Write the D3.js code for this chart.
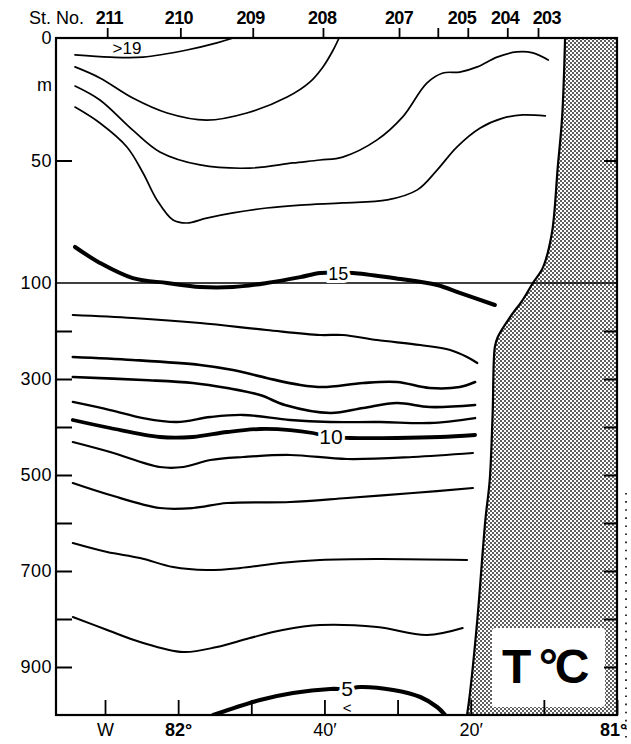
<!DOCTYPE html>
<html><head><meta charset="utf-8">
<script src="https://cdn.jsdelivr.net/npm/d3@7"></script>
<style>
body{margin:0;background:#fff}
text{font-family:"Liberation Sans",Arial,Helvetica,sans-serif;fill:#000}
</style>
</head><body>
<svg id="c" width="631" height="744"></svg>
<script>
// ---- data (longitude in minutes west of 81°W, depth in m) ----
const stations = ["211","210","209","208","207","","205","204","203"];
const stationLon = [69.7,59.7,49.8,40.2,29.8,24.5,20.4,15.0,10.8];
const stationLabelShift = [-0.3,0.2,0.3,0.1,0,0,0.8,0.3,-1.2]; // label offset in minutes
const lonTicks = [70,60,50,40,30,20,10,0];
const lonTickLabels = ["W","82°","","40′","","20′","","81°"];
const depthLabelValues = [0,50,100,300,500,700,900];
const depthTickValues = [50,200,300,400,500,600,700,800,900];

const iso19 = [[74.1,6.9],[69.3,7.8],[64.8,7.8],[58.8,4.9],[54.7,2.0],[52.5,0]];
const iso18 = [[74.1,11.8],[70.7,16.3],[66.2,24.5],[61.5,30.6],[56.1,33.5],[50.6,30.6],[45.1,24.1],[42.0,18.0],[40.2,11.8],[38.8,4.9],[38.0,0]];
const iso17 = [[74.1,19.6],[70.7,25.3],[66.2,37.6],[62.5,46.5],[57.0,51.8],[50.2,53.1],[44.3,51.0],[40.6,49.8],[37.5,48.6],[32.8,41.6],[29.3,32.2],[26.0,18.4],[23.8,14.3],[21.5,13.9],[19.1,11.8],[16.4,7.8],[13.7,5.7],[11.5,6.1],[9.4,9.0]];
const iso16 = [[74.1,28.2],[70.7,34.7],[67.0,44.5],[64.8,55.1],[62.9,66.1],[60.7,74.3],[58.8,75.5],[56.1,73.5],[52.5,71.4],[47.9,69.4],[43.3,68.2],[37.5,67.3],[31.4,66.1],[27.3,62.0],[24.6,53.9],[21.9,44.5],[18.7,36.7],[15.6,32.7],[12.9,31.4],[9.8,31.8]];
const iso15 = [[74.1,85.3],[70.7,91.8],[66.2,98.0],[61.5,100],[57.0,108.3],[52.5,108.3],[47.9,100],[43.3,97.6],[40.6,95.9],[38.1,95.9],[36.1,95.9],[30.6,98.0],[24.6,104.2],[21.5,120.8],[16.7,145.8]];
const iso14 = [[74.4,166.7],[66.2,172.9],[57.0,183.3],[47.9,197.9],[40.6,208.3],[37.5,208.3],[32.8,218.8],[26.9,229.2],[22.8,239.6],[20.5,254.2],[19.1,266.7]];
const iso13 = [[74.4,254.2],[66.2,260.4],[57.0,270.8],[52.5,281.3],[47.9,297.9],[43.3,312.5],[40.2,316.7],[34.7,308.3],[30.1,306.3],[25.6,318.8],[21.5,316.7],[19.4,306.3]];
const iso12 = [[74.4,295.8],[64.8,302.1],[58.0,308.3],[53.3,318.8],[48.8,333.3],[45.4,354.2],[39.2,370.8],[34.7,360.4],[30.1,350],[25.6,358.3],[19.4,354.2]];
const iso11 = [[74.4,347.9],[69.3,364.6],[64.8,381.3],[60.2,389.6],[55.6,379.2],[51.1,375],[44.7,385.4],[39.2,389.6],[32.4,389.6],[25.6,391.7],[19.4,381.3]];
const iso10 = [[74.4,385.4],[69.3,402.1],[62.5,420.8],[58.0,420.8],[53.3,410.4],[48.8,404.2],[44.7,406.3],[41.6,412.5],[39.2,420.8],[36.5,422.9],[30.1,422.9],[24.2,420.8],[19.4,416.7]];
const iso9 = [[74.4,431.3],[69.3,452.1],[62.5,483.3],[59.3,483.3],[55.6,468.8],[51.1,462.5],[44.7,458.3],[36.9,466.7],[27.9,462.5],[19.7,454.2]];
const iso8 = [[74.4,516.7],[69.3,541.7],[62.5,568.8],[58.0,568.8],[53.3,558.3],[44.7,556.3],[36.9,547.9],[27.9,537.5],[19.7,527.1]];
const iso7 = [[74.4,641.7],[69.7,660.4],[65.2,672.9],[60.7,691.7],[56.1,697.9],[51.5,693.8],[46.1,683.3],[40.6,677.1],[32.8,675],[20.5,677.1]];
const iso6 = [[74.4,795.8],[69.7,822.9],[65.2,847.9],[59.3,868.8],[54.7,858.3],[50.2,839.6],[45.7,822.9],[40.6,812.5],[32.8,816.7],[26.0,833.3],[21.1,818.8]];
const iso5 = [[55.2,1000],[48.8,968.8],[44.3,954.2],[39.2,945.8],[36.9,945.8],[35.1,941.7],[30.6,947.9],[26.9,962.5],[24.6,983.3],[23.5,1000]];

const bottomProfile = [[7.1,0],[7.5,32.2],[8.1,52.7],[8.9,79.6],[10.1,93.5],[11.5,100],[12.9,135.4],[14.6,170.8],[16.3,212.5],[16.7,233.3],[17.0,370.8],[17.4,510.4],[18.0,593.8],[19.1,802.1],[20.1,954.2],[20.5,1000]];

const contours = [
  {pts:iso19,w:1.7},{pts:iso18,w:1.7},{pts:iso17,w:1.7},{pts:iso16,w:1.7},
  {pts:iso15,w:4},{pts:iso14,w:2.2},{pts:iso13,w:2.6},{pts:iso12,w:2.6},
  {pts:iso11,w:2.3},{pts:iso10,w:3.8},{pts:iso9,w:2.2},{pts:iso8,w:2.2},
  {pts:iso7,w:2},{pts:iso6,w:2},{pts:iso5,w:4.2}
];
const contourLabels = [
  {t:">19",lon:67.0,d:4.3,s:17},
  {t:"15",lon:38.1,d:96.3,s:18},
  {t:"10",lon:39.1,d:420.8,s:21},
  {t:"5",lon:36.9,d:945.8,s:21},
  {t:"<",lon:36.9,d:985,s:15}
];

// ---- scales ----
const x = d3.scaleLinear().domain([76.7,0]).range([56,617]);
const y = d3.scaleLinear().domain([0,100,1000]).range([38,283,715]);

const svg = d3.select("#c");
const defs = svg.append("defs");
const pat = defs.append("pattern").attr("id","dots").attr("patternUnits","userSpaceOnUse")
  .attr("width",4).attr("height",4);
pat.append("rect").attr("width",4).attr("height",4).attr("fill","#fff");
pat.append("circle").attr("cx",1).attr("cy",1).attr("r",0.9).attr("fill","#111");
pat.append("circle").attr("cx",3).attr("cy",3).attr("r",0.9).attr("fill","#111");
defs.append("clipPath").attr("id","plot").append("rect")
  .attr("x",x(76.7)).attr("y",y(0)).attr("width",x(0)-x(76.7)).attr("height",y(1000)-y(0));

// land
const landPoly = bottomProfile.concat([[0,1000],[0,0]]);
svg.append("path")
  .attr("d", d3.line().x(d=>x(d[0])).y(d=>y(d[1])).curve(d3.curveLinear)(landPoly))
  .attr("fill","url(#dots)").attr("stroke","none");
svg.append("path")
  .attr("d", d3.line().x(d=>x(d[0])).y(d=>y(d[1])).curve(d3.curveCatmullRom.alpha(0.5))(bottomProfile))
  .attr("fill","none").attr("stroke","#000").attr("stroke-width",2.2);

// 100 m break line
svg.append("line").attr("x1",x(76.7)).attr("x2",x(0)).attr("y1",y(100)).attr("y2",y(100))
  .attr("stroke","#000").attr("stroke-width",1.6);

// contours
const g = svg.append("g").attr("clip-path","url(#plot)");
const line = d3.line().x(d=>x(d[0])).y(d=>y(d[1])).curve(d3.curveCatmullRom.alpha(0.5));
g.selectAll("path.iso").data(contours).join("path").attr("class","iso")
  .attr("d",d=>line(d.pts)).attr("fill","none").attr("stroke","#000")
  .attr("stroke-width",d=>d.w).attr("stroke-linecap","round").attr("stroke-linejoin","round");

// contour labels
svg.selectAll("text.cl").data(contourLabels).join("text").attr("class","cl")
  .attr("x",d=>x(d.lon)).attr("y",d=>y(d.d)).attr("text-anchor","middle")
  .attr("dominant-baseline","central").attr("font-size",d=>d.s)
  .attr("stroke","#fff").attr("stroke-width",d=>d.t===">19"?0:6).attr("paint-order","stroke")
  .text(d=>d.t);

// T °C box
svg.append("rect").attr("x",492).attr("y",628).attr("width",113).attr("height",79).attr("fill","#fff").attr("rx",3);
svg.append("text").attr("x",502).attr("y",683)
  .attr("font-weight","bold").attr("font-size",48).attr("letter-spacing",-3).text("T °C");

// axes
const axes = svg.append("g");
// left ticks (inward)
axes.append("g").attr("transform",`translate(${x(76.7)},0)`)
  .call(d3.axisLeft(y).tickValues(depthTickValues).tickSizeInner(-16).tickSizeOuter(0).tickFormat(""))
  .call(s=>{s.select(".domain").remove(); s.selectAll("line").attr("stroke","#000").attr("stroke-width",2);});
// left labels
axes.append("g").attr("transform",`translate(${x(76.7)},0)`)
  .call(d3.axisLeft(y).tickValues(depthLabelValues).tickSize(0).tickPadding(4).tickFormat(d3.format("d")))
  .call(s=>{s.select(".domain").remove(); s.selectAll("text").attr("font-size",18).attr("font-family","Liberation Sans, Arial").attr("fill","#000").attr("letter-spacing",0.5);});
axes.append("text").attr("x",52).attr("y",y(19.2)).attr("text-anchor","end").attr("dominant-baseline","central")
  .attr("font-size",18).text("m");
// right ticks (inward)
axes.append("g").attr("transform",`translate(${x(0)},0)`)
  .call(d3.axisRight(y).tickValues(depthTickValues).tickSizeInner(-13).tickSizeOuter(0).tickFormat(""))
  .call(s=>{s.select(".domain").remove(); s.selectAll("line").attr("stroke","#000").attr("stroke-width",2);});
// top station axis (ticks)
axes.append("g").attr("transform",`translate(0,${y(0)})`)
  .call(d3.axisTop(x).tickValues(stationLon).tickSizeInner(10).tickSizeOuter(0).tickFormat(""))
  .call(s=>{s.select(".domain").remove(); s.selectAll("line").attr("stroke","#000").attr("stroke-width",1.8);});
// station labels
axes.selectAll("text.st").data(stations).join("text").attr("class","st")
  .attr("x",(d,i)=>x(stationLon[i]+stationLabelShift[i])).attr("y",y(0)-14)
  .attr("text-anchor","middle").attr("font-size",18).attr("font-weight","bold")
  .attr("letter-spacing",-0.6).text(d=>d);
axes.append("text").attr("x",84).attr("y",y(0)-14).attr("text-anchor","end").attr("font-size",18).text("St. No.");
// bottom longitude axis
axes.append("g").attr("transform",`translate(0,${y(1000)})`)
  .call(d3.axisBottom(x).tickValues(lonTicks).tickSizeInner(-15).tickSizeOuter(0).tickPadding(8)
    .tickFormat((d,i)=>lonTickLabels[i]))
  .call(s=>{s.select(".domain").remove(); s.selectAll("line").attr("stroke","#000").attr("stroke-width",1.8);
    s.selectAll("text").attr("font-size",18).attr("fill","#000").attr("font-family","Liberation Sans, Arial")
     .attr("font-weight",(d,i)=>(lonTickLabels[i].indexOf("°")>=0)?"bold":"normal")
     .attr("dx",(d,i)=>i===lonTickLabels.length-1?-4:0);});

// frame
svg.append("rect").attr("x",x(76.7)).attr("y",y(0)).attr("width",x(0)-x(76.7)).attr("height",y(1000)-y(0))
  .attr("fill","none").attr("stroke","#000").attr("stroke-width",2.2);

// scan edge dots at right margin
svg.append("line").attr("x1",626).attr("x2",626).attr("y1",493).attr("y2",744)
  .attr("stroke","#000").attr("stroke-width",1.6).attr("stroke-dasharray","1.6,6.5");
</script>
</body></html>
